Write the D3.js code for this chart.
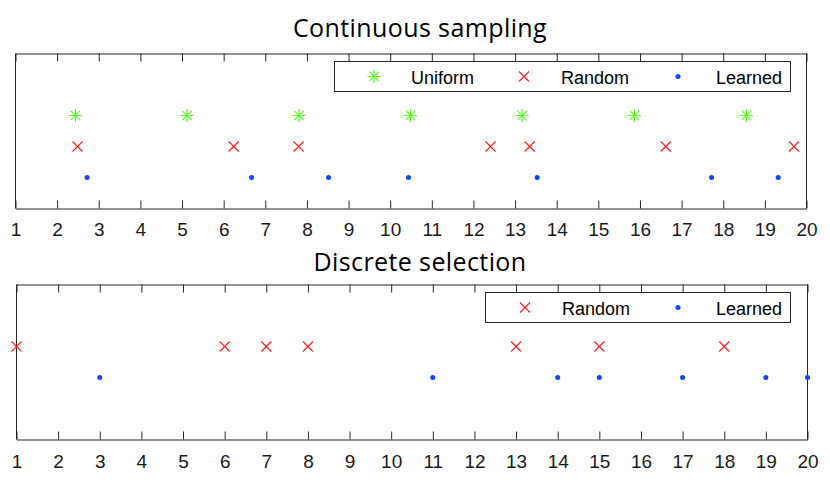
<!DOCTYPE html>
<html><head><meta charset="utf-8">
<script src="https://cdn.jsdelivr.net/npm/d3@7"></script>
<style>body{margin:0;background:#fff}</style></head>
<body>
<svg id="c" width="830" height="486"></svg>
<script>
// ---- data ----
const xTickValues = d3.range(1, 21);
const contUniform = [2.44, 5.12, 7.81, 10.49, 13.17, 15.87, 18.56];
const contRandom  = [2.49, 6.24, 7.80, 12.41, 13.35, 16.62, 19.70];
const contLearned = [2.72, 6.67, 8.52, 10.44, 13.53, 17.72, 19.32];
const discRandom  = [1, 6, 7, 8, 13, 15, 18];
const discLearned = [3, 11, 14, 15, 17, 19, 20];
const contTitle = "Continuous sampling";
const discTitle = "Discrete selection";
const contSeriesNames = ["Uniform", "Random", "Learned"];
const discSeriesNames = ["Random", "Learned"];
const contRows = [3, 2, 1];
const discRows = [3, 2];

// ---- styles ----
const colors = {Uniform: "#5cf52a", Random: "#ff1a1a", Learned: "#0f45ff"};
const axisColor = "#262626";
const svg = d3.select("#c");

// custom marker types for d3.symbol
const symAsterisk = {draw(ctx, size) {
  const r = Math.sqrt(size) / 2, d = r * Math.SQRT1_2;
  ctx.moveTo(-r, 0); ctx.lineTo(r, 0);
  ctx.moveTo(0, -r); ctx.lineTo(0, r);
  ctx.moveTo(-d, -d); ctx.lineTo(d, d);
  ctx.moveTo(-d, d); ctx.lineTo(d, -d);
}};
const symCross = {draw(ctx, size) {
  const r = Math.sqrt(size) / 2;
  ctx.moveTo(-r, -r); ctx.lineTo(r, r);
  ctx.moveTo(-r, r); ctx.lineTo(r, -r);
}};
const markers = {
  Uniform: g => g.append("path").attr("d", d3.symbol(symAsterisk, 169)()).attr("fill", "none").attr("stroke", colors.Uniform).attr("stroke-width", 1.2),
  Random:  g => g.append("path").attr("d", d3.symbol(symCross, 100)()).attr("fill", "none").attr("stroke", colors.Random).attr("stroke-width", 1.1),
  Learned: g => g.append("path").attr("d", d3.symbol(d3.symbolCircle, 20)()).attr("fill", colors.Learned)
};

function panel(opts) {
  const {x0, x1, y0, y1, title, titleX, titleY, series, legend, labelY} = opts;
  const g = svg.append("g");
  const x = d3.scaleLinear().domain([1, 20]).range([x0, x1]);
  const y = d3.scaleLinear().domain([0, 5]).range([y1, y0]);

  // bottom axis with inward ticks
  const ax = g.append("g").attr("transform", `translate(0,${y1})`)
    .call(d3.axisBottom(x).tickValues(xTickValues).tickSizeInner(-8).tickSizeOuter(0).tickFormat(d3.format("d")));
  ax.select(".domain").attr("stroke", axisColor);
  ax.selectAll(".tick line").attr("stroke", axisColor);
  ax.selectAll(".tick text").attr("y", labelY).attr("dy", null)
    .attr("font-family", "Liberation Sans, Arial, sans-serif").attr("font-size", 19).attr("fill", "#1a1a1a");
  // top axis ticks, no labels
  const at = g.append("g").attr("transform", `translate(0,${y0})`)
    .call(d3.axisTop(x).tickValues(xTickValues).tickSizeInner(-8).tickSizeOuter(0).tickFormat(""));
  at.select(".domain").attr("stroke", axisColor);
  at.selectAll(".tick line").attr("stroke", axisColor);
  // left & right box lines
  g.append("line").attr("x1", x0).attr("x2", x0).attr("y1", y0).attr("y2", y1).attr("stroke", axisColor);
  g.append("line").attr("x1", x1).attr("x2", x1).attr("y1", y0).attr("y2", y1).attr("stroke", axisColor);

  // title
  svg.append("text").attr("x", titleX).attr("y", titleY).attr("text-anchor", "middle")
    .attr("font-family", "Open Sans, sans-serif").attr("font-size", 25).attr("letter-spacing", 0.4)
    .attr("fill", "#000").text(title);

  // markers
  series.forEach(s => {
    g.append("g").selectAll("g").data(s.values).join("g")
      .attr("transform", d => `translate(${x(d)},${y(s.row)})`)
      .each(function () { markers[s.name](d3.select(this)); });
  });

  // legend
  const lg = g.append("g");
  lg.append("rect").attr("x", legend.x).attr("y", legend.y).attr("width", legend.w).attr("height", 30)
    .attr("fill", "#fff").attr("stroke", axisColor).attr("stroke-width", 1);
  legend.items.forEach(it => {
    const mg = lg.append("g").attr("transform", `translate(${it.mx},${legend.y + 15})`);
    markers[it.name](mg);
    lg.append("text").attr("x", it.tx).attr("y", legend.y + 22)
      .attr("font-family", "Liberation Sans, Arial, sans-serif").attr("font-size", 18).attr("fill", "#000").text(it.name);
  });
}

panel({
  x0: 15.5, x1: 806.5, y0: 53.5, y1: 208.5, title: contTitle, titleX: 420, titleY: 37, labelY: 27,
  series: contSeriesNames.map((n, i) => ({name: n, row: contRows[i], values: [contUniform, contRandom, contLearned][i]})),
  legend: {x: 334.5, y: 61.5, w: 456, items: [
    {name: "Uniform", mx: 374, tx: 411}, {name: "Random", mx: 524, tx: 561}, {name: "Learned", mx: 678, tx: 716}]}
});
panel({
  x0: 16.5, x1: 807.5, y0: 284.5, y1: 439.5, title: discTitle, titleX: 420, titleY: 271, labelY: 28,
  series: discSeriesNames.map((n, i) => ({name: n, row: discRows[i], values: [discRandom, discLearned][i]})),
  legend: {x: 485.5, y: 292.5, w: 305, items: [
    {name: "Random", mx: 525, tx: 562}, {name: "Learned", mx: 678, tx: 716}]}
});
</script>
</body></html>
